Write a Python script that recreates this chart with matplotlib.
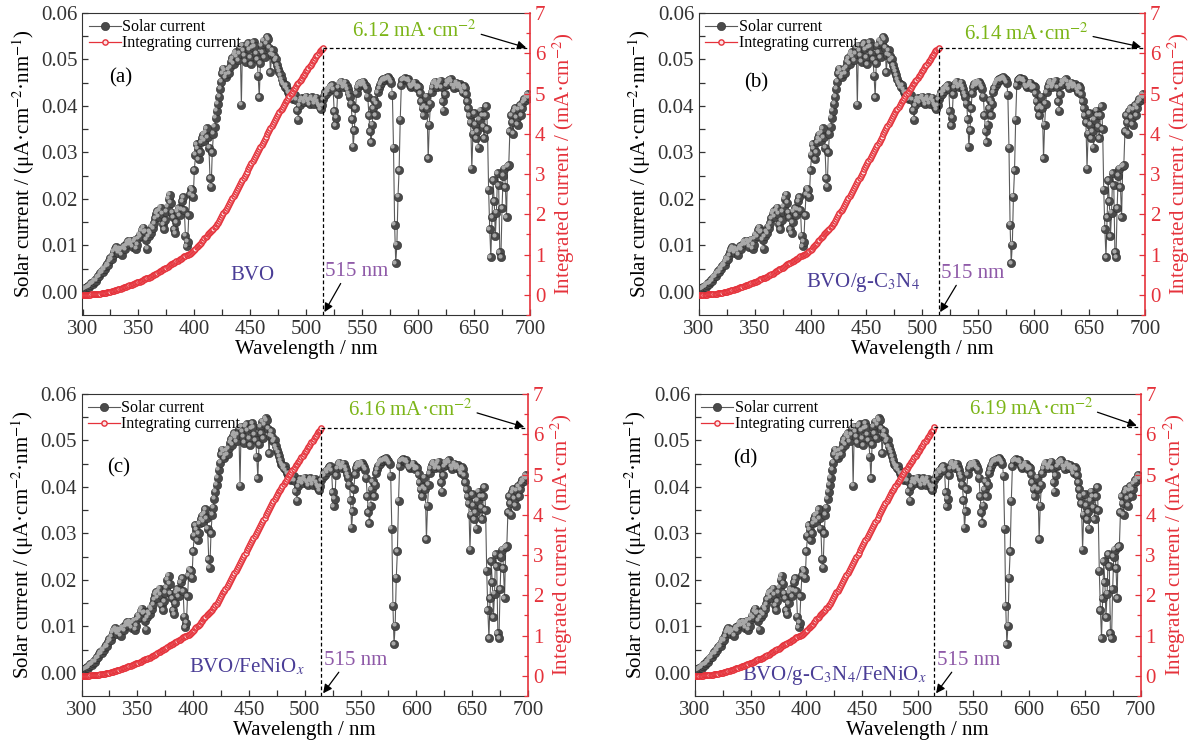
import numpy as np
import matplotlib
matplotlib.use('Agg')
import matplotlib.pyplot as plt
from matplotlib.transforms import ScaledTranslation

plt.rcParams['font.family'] = ['Liberation Serif', 'DejaVu Serif']
plt.rcParams['mathtext.fontset'] = 'stix'

# ---- data ----
wavelength = np.arange(300, 701)   # nm, 1 nm steps
solar_current = [
    0.0005, 0.0006, 0.0008, 0.0007, 0.0010, 0.0012, 0.0011, 0.0015, 0.0018, 0.0017,
    0.0021, 0.0025, 0.0024, 0.0030, 0.0034, 0.0033, 0.0040, 0.0044, 0.0042, 0.0050,
    0.0048, 0.0055, 0.0060, 0.0057, 0.0066, 0.0072, 0.0070, 0.0079, 0.0086, 0.0092,
    0.0096, 0.0090, 0.0084, 0.0093, 0.0088, 0.0080, 0.0094, 0.0098, 0.0091, 0.0100,
    0.0106, 0.0109, 0.0102, 0.0110, 0.0104, 0.0097, 0.0108, 0.0112, 0.0093, 0.0101,
    0.0115, 0.0123, 0.0119, 0.0133, 0.0138, 0.0127, 0.0130, 0.0112, 0.0093, 0.0120,
    0.0131, 0.0126, 0.0140, 0.0137, 0.0148, 0.0158, 0.0168, 0.0173, 0.0162, 0.0176,
    0.0181, 0.0168, 0.0145, 0.0135, 0.0154, 0.0172, 0.0183, 0.0200, 0.0209, 0.0192,
    0.0170, 0.0160, 0.0135, 0.0126, 0.0150, 0.0172, 0.0180, 0.0165, 0.0178, 0.0195,
    0.0204, 0.0176, 0.0121, 0.0098, 0.0108, 0.0165, 0.0210, 0.0222, 0.0218, 0.0205,
    0.0262, 0.0295, 0.0318, 0.0308, 0.0285, 0.0300, 0.0322, 0.0330, 0.0338, 0.0325,
    0.0342, 0.0352, 0.0333, 0.0310, 0.0244, 0.0226, 0.0300, 0.0340, 0.0355, 0.0375,
    0.0390, 0.0405, 0.0420, 0.0437, 0.0452, 0.0470, 0.0480, 0.0476, 0.0462, 0.0468,
    0.0478, 0.0470, 0.0484, 0.0495, 0.0503, 0.0491, 0.0510, 0.0516, 0.0506, 0.0498,
    0.0512, 0.0525, 0.0403, 0.0530, 0.0520, 0.0508, 0.0495, 0.0530, 0.0535, 0.0522,
    0.0504, 0.0490, 0.0526, 0.0537, 0.0528, 0.0512, 0.0500, 0.0465, 0.0419, 0.0492,
    0.0530, 0.0515, 0.0540, 0.0505, 0.0535, 0.0548, 0.0543, 0.0525, 0.0472, 0.0510,
    0.0520, 0.0508, 0.0498, 0.0502, 0.0488, 0.0480, 0.0474, 0.0466, 0.0458, 0.0450,
    0.0447, 0.0440, 0.0445, 0.0436, 0.0430, 0.0426, 0.0429, 0.0420, 0.0415, 0.0418,
    0.0424, 0.0413, 0.0391, 0.0370, 0.0402, 0.0410, 0.0417, 0.0413, 0.0408, 0.0416,
    0.0420, 0.0413, 0.0409, 0.0404, 0.0414, 0.0419, 0.0412, 0.0405, 0.0414, 0.0418,
    0.0410, 0.0404, 0.0398, 0.0393, 0.0402, 0.0415, 0.0422, 0.0430, 0.0425, 0.0435,
    0.0432, 0.0438, 0.0443, 0.0445, 0.0436, 0.0388, 0.0359, 0.0375, 0.0425, 0.0440,
    0.0448, 0.0452, 0.0447, 0.0440, 0.0445, 0.0450, 0.0443, 0.0436, 0.0428, 0.0420,
    0.0405, 0.0372, 0.0312, 0.0348, 0.0395, 0.0428, 0.0440, 0.0447, 0.0450, 0.0444,
    0.0447, 0.0452, 0.0448, 0.0442, 0.0437, 0.0420, 0.0380, 0.0345, 0.0322, 0.0360,
    0.0395, 0.0412, 0.0380, 0.0405, 0.0430, 0.0438, 0.0446, 0.0450, 0.0455, 0.0458,
    0.0455, 0.0460, 0.0458, 0.0462, 0.0459, 0.0455, 0.0450, 0.0424, 0.0310, 0.0144,
    0.0062, 0.0101, 0.0205, 0.0262, 0.0370, 0.0445, 0.0455, 0.0458, 0.0460, 0.0457,
    0.0455, 0.0458, 0.0452, 0.0445, 0.0440, 0.0443, 0.0447, 0.0450, 0.0445, 0.0438,
    0.0442, 0.0440, 0.0428, 0.0410, 0.0395, 0.0380, 0.0400, 0.0420, 0.0395, 0.0287,
    0.0360, 0.0405, 0.0430, 0.0440, 0.0448, 0.0452, 0.0446, 0.0440, 0.0445, 0.0450,
    0.0454, 0.0440, 0.0410, 0.0390, 0.0425, 0.0445, 0.0452, 0.0448, 0.0455, 0.0458,
    0.0452, 0.0445, 0.0438, 0.0444, 0.0450, 0.0446, 0.0440, 0.0447, 0.0443, 0.0436,
    0.0430, 0.0442, 0.0438, 0.0425, 0.0410, 0.0395, 0.0380, 0.0365, 0.0265, 0.0340,
    0.0385, 0.0360, 0.0330, 0.0345, 0.0310, 0.0370, 0.0390, 0.0380, 0.0355, 0.0330,
    0.0380, 0.0400, 0.0350, 0.0220, 0.0135, 0.0075, 0.0160, 0.0240, 0.0195, 0.0120,
    0.0170, 0.0255, 0.0230, 0.0085, 0.0075, 0.0180, 0.0250, 0.0265, 0.0225, 0.0160,
    0.0270, 0.0272, 0.0345, 0.0380, 0.0365, 0.0340, 0.0388, 0.0395, 0.0375, 0.0360,
    0.0392, 0.0402, 0.0380, 0.0395, 0.0408, 0.0415, 0.0412, 0.0420, 0.0425, 0.0418,
    0.0422,
]

# integrated current 300-514 nm (mA cm^-2), last point at 515 nm differs per panel
integ_wavelength = np.arange(300, 516)
integ_current = [
    0.000, 0.001, 0.002, 0.003, 0.004, 0.005, 0.006, 0.008, 0.010, 0.011,
    0.013, 0.016, 0.018, 0.021, 0.025, 0.028, 0.032, 0.036, 0.041, 0.046,
    0.051, 0.056, 0.062, 0.068, 0.074, 0.081, 0.088, 0.096, 0.104, 0.113,
    0.122, 0.131, 0.140, 0.149, 0.158, 0.166, 0.175, 0.185, 0.194, 0.204,
    0.214, 0.225, 0.235, 0.246, 0.257, 0.266, 0.277, 0.288, 0.298, 0.308,
    0.319, 0.331, 0.343, 0.356, 0.370, 0.383, 0.396, 0.407, 0.417, 0.429,
    0.442, 0.455, 0.469, 0.483, 0.497, 0.513, 0.530, 0.547, 0.563, 0.581,
    0.599, 0.616, 0.630, 0.644, 0.659, 0.676, 0.695, 0.715, 0.736, 0.755,
    0.772, 0.788, 0.801, 0.814, 0.829, 0.846, 0.864, 0.881, 0.899, 0.918,
    0.939, 0.956, 0.968, 0.978, 0.989, 1.005, 1.026, 1.048, 1.070, 1.091,
    1.117, 1.147, 1.179, 1.209, 1.238, 1.268, 1.300, 1.333, 1.367, 1.400,
    1.434, 1.469, 1.502, 1.533, 1.558, 1.580, 1.610, 1.644, 1.680, 1.717,
    1.756, 1.797, 1.839, 1.883, 1.928, 1.975, 2.023, 2.071, 2.117, 2.164,
    2.212, 2.259, 2.307, 2.357, 2.407, 2.456, 2.507, 2.559, 2.610, 2.660,
    2.711, 2.763, 2.804, 2.857, 2.909, 2.960, 3.009, 3.062, 3.116, 3.168,
    3.218, 3.267, 3.320, 3.374, 3.427, 3.478, 3.528, 3.574, 3.616, 3.665,
    3.718, 3.770, 3.824, 3.874, 3.928, 3.983, 4.037, 4.090, 4.137, 4.188,
    4.240, 4.291, 4.341, 4.391, 4.440, 4.488, 4.535, 4.582, 4.628, 4.673,
    4.717, 4.761, 4.806, 4.850, 4.893, 4.935, 4.978, 5.020, 5.061, 5.103,
    5.145, 5.186, 5.225, 5.262, 5.303, 5.344, 5.386, 5.427, 5.468, 5.509,
    5.551, 5.593, 5.634, 5.674, 5.716, 5.758, 5.799, 5.839, 5.881, 5.923,
    5.964, 6.004, 6.044, 6.083, 6.103,
]

cutoff = 515
panel_tags = ['(a)', '(b)', '(c)', '(d)']
samples = ['BVO', 'BVO/g-C$_3$N$_4$', 'BVO/FeNiO$_x$', 'BVO/g-C$_3$N$_4$/FeNiO$_x$']
totals = [6.12, 6.14, 6.16, 6.19]

# ---- layout (pixel boxes: left, top, width, height) and label placement ----
W, H = 1194, 749
boxes = [(82.5, 13, 447.5, 302), (699, 13, 446, 302),
         (81.5, 394, 446.5, 302), (695, 394, 445.5, 302)]
tag_pos = [(334, 0.046), (351, 0.045), (333, 0.044), (345, 0.046)]
sample_pos = [(452, 0.0036), (447, 0.0020), (448, 0.0013), (425, -0.0006)]
total_txt = [(597, 6.54), (594, 6.48), (595, 6.60), (602, 6.62)]
nm_y = [0.0044, 0.0040, 0.0027, 0.0027]

gray = '#4a4a4a'
red = '#e5323b'
axc = '#333333'

fig = plt.figure(figsize=(W / 100, H / 100), dpi=100)

for i in range(4):
    l, t, w, h = boxes[i]
    ax = fig.add_axes([l / W, (H - t - h) / H, w / W, h / H])
    ax2 = ax.twinx()

    # solar current: dark balls with a light highlight
    sl, = ax.plot(wavelength, solar_current, '-', color='#5a5a5a', lw=0.8,
                  marker='o', ms=6.0, mfc=gray, mec='#2e2e2e', mew=0.4)
    hl = ax.transData + ScaledTranslation(-1.0 / 72, 1.0 / 72, fig.dpi_scale_trans)
    ax.plot(wavelength, solar_current, ls='none', marker='o', ms=2.0,
            color='#a9a9a9', transform=hl)

    ic = integ_current + [totals[i]]
    il, = ax2.plot(integ_wavelength, ic, '-', color=red, lw=0.9, marker='o',
                   ms=3.8, mfc='#fbe3e4', mec=red, mew=1.0)

    ax.set_xlim(300, 700)
    ax.set_ylim(-0.005, 0.06)
    ax2.set_ylim(-0.5, 7)
    ax.set_xticks(np.arange(300, 701, 50))
    ax.set_xticks(np.arange(325, 700, 50), minor=True)
    ax.set_yticks(np.arange(0, 0.061, 0.01))
    ax.set_yticks(np.arange(0.005, 0.06, 0.01), minor=True)
    ax.set_yticklabels(['%.2f' % v for v in np.arange(0, 0.061, 0.01)])
    ax2.set_yticks(np.arange(0, 8, 1))
    ax2.set_yticks(np.arange(-0.5, 7, 1), minor=True)

    for s in ['left', 'bottom', 'top']:
        ax.spines[s].set_color(axc)
    ax.spines['right'].set_visible(False)
    for s in ['left', 'bottom', 'top']:
        ax2.spines[s].set_visible(False)
    ax2.spines['right'].set_color(red)
    ax2.spines['right'].set_linewidth(1.2)

    ax.tick_params(which='both', direction='in', top=False, right=False,
                   colors=axc, labelsize=15, width=0.9)
    ax.tick_params(which='major', length=4.5)
    ax.tick_params(which='minor', length=4.5)
    ax2.tick_params(which='both', direction='in', colors=red, labelsize=15, width=0.9)
    ax2.tick_params(which='major', length=4.5)
    ax2.tick_params(which='minor', length=3)

    ax.set_xlabel('Wavelength / nm', fontsize=15, labelpad=1)
    ax.set_ylabel('Solar current / (μA·cm$^{-2}$·nm$^{-1}$)', fontsize=15, labelpad=3)
    ax2.set_ylabel('Integrated current / (mA·cm$^{-2}$)', fontsize=15, color=red, labelpad=4)

    # dashed guides at the cut-off wavelength
    ax2.plot([cutoff, cutoff], [-0.5, totals[i]], '--', color='black', lw=0.9, dashes=(3, 2))
    ax2.plot([cutoff, 700], [totals[i], totals[i]], '--', color='black', lw=0.9, dashes=(3, 2))

    ax2.text(total_txt[i][0], total_txt[i][1], '%.2f mA·cm$^{-2}$' % totals[i],
             color='#7cb518', fontsize=15, ha='center', va='center')
    ax2.annotate('', xy=(699, totals[i]), xytext=(total_txt[i][0] + 57, total_txt[i][1] - 0.05),
                 arrowprops=dict(arrowstyle='-|>', color='black', lw=0.9, mutation_scale=13))

    ax.text(cutoff + 2, nm_y[i], '515 nm', color='#8f5aa8', fontsize=15,
            ha='left', va='center')
    ax.annotate('', xy=(cutoff, -0.0049), xytext=(cutoff + 17, nm_y[i] - 0.0021),
                arrowprops=dict(arrowstyle='-|>', color='black', lw=0.9, mutation_scale=13))

    ax.text(sample_pos[i][0], sample_pos[i][1], samples[i], color='#4a3d96',
            fontsize=15, ha='center', va='center')
    ax.text(tag_pos[i][0], tag_pos[i][1], panel_tags[i], color='black',
            fontsize=15, ha='center', va='center')

    ax2.legend([sl, il], ['Solar current', 'Integrating current'], loc='upper left',
               bbox_to_anchor=(0, 1.0), frameon=False, fontsize=11.5,
               handlelength=2.0, handletextpad=0.1, labelspacing=0.0,
               borderpad=0.2, borderaxespad=0.2)

fig.savefig('out.png', dpi=100)
